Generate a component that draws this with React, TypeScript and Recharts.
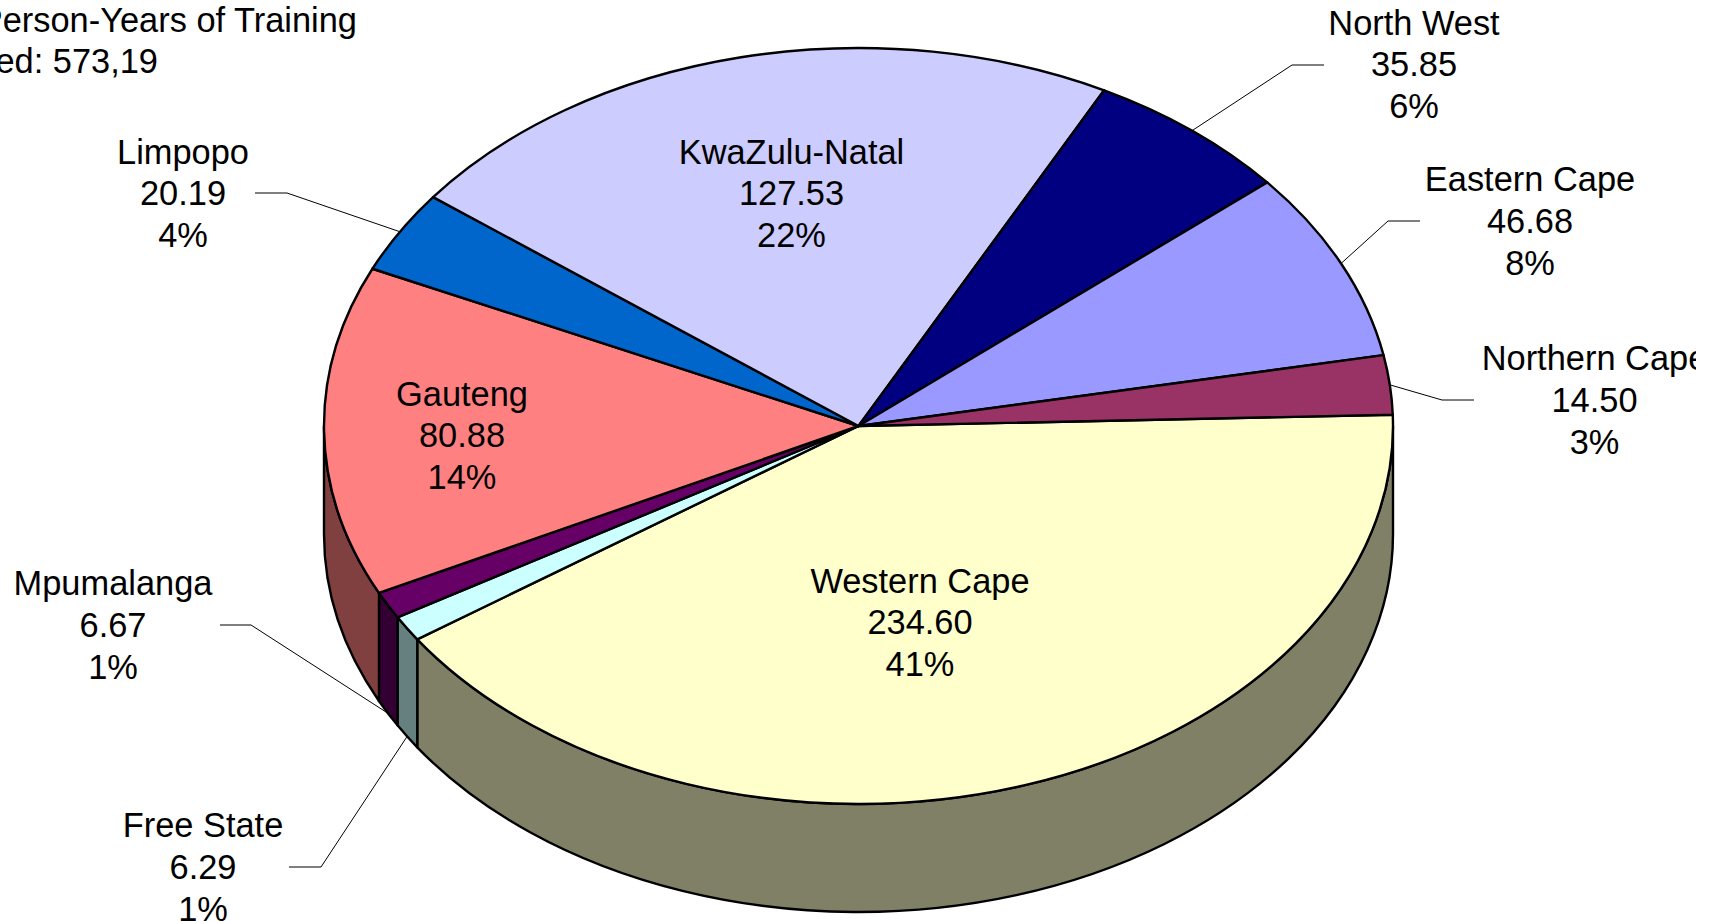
import React from "react";
import { PieChart, Pie } from "recharts";

const provinces = ["Western Cape", "Free State", "Mpumalanga", "Gauteng", "Limpopo", "KwaZulu-Natal", "North West", "Eastern Cape", "Northern Cape"];
const personYears = [234.6, 6.29, 6.67, 80.88, 20.19, 127.53, 35.85, 46.68, 14.5];
const topColors = ["#FFFFCC", "#CCFFFF", "#660066", "#FF8080", "#0066CC", "#CCCCFF", "#000080", "#9999FF", "#993366"];
const sideColors = ["#808066", "#668080", "#330033", "#804040", "#003366", "#666680", "#000040", "#4D4D80", "#4D1933"];
const titleLines = ["Person-Years of Training", "ed: 573,19"];

const table = provinces.map((name, i) => ({ name, value: personYears[i], fill: topColors[i], side: sideColors[i] }));

const WIDTH = 1696;
const HEIGHT = 921;
const CX = 858.5;
const CY = 426;
const RX = 534.5;
const RY = 378;
const DEPTH = 108;
const FONT = 34.4;
const LINE = 41.8;

// Label placement: text centre x, first baseline y, and optional leader elbow [textSideX, elbowX, y].
const labelLayout: Record<string, { x: number; y: number; leader?: [number, number, number] }> = {
  "Western Cape": { x: 920, y: 592.5 },
  "Free State": { x: 203, y: 837, leader: [289, 321, 867] },
  Mpumalanga: { x: 113, y: 595, leader: [220, 251, 625] },
  Gauteng: { x: 462, y: 405.5 },
  Limpopo: { x: 183, y: 163.5, leader: [255, 287, 193] },
  "KwaZulu-Natal": { x: 791.5, y: 163.5 },
  "North West": { x: 1414, y: 34.5, leader: [1324, 1292, 65] },
  "Eastern Cape": { x: 1530, y: 191, leader: [1420, 1388, 221] },
  "Northern Cape": { x: 1594.5, y: 370, leader: [1474, 1442, 400] },
};

const pt = (deg: number, dy = 0) => {
  const a = (deg * Math.PI) / 180;
  return { x: CX + RX * Math.cos(a), y: CY - RY * Math.sin(a) + dy };
};

const arc = (from: number, to: number, dy = 0, sweep = 1) => {
  const p = pt(to, dy);
  const large = Math.abs(from - to) > 180 ? 1 : 0;
  return `A ${RX} ${RY} 0 ${large} ${sweep} ${p.x} ${p.y}`;
};

function EllipseSlice(props: any) {
  const { startAngle, endAngle, fill, payload } = props;
  const side = payload?.side ?? props.side;
  const s = pt(startAngle);
  const top = `M ${CX} ${CY} L ${s.x} ${s.y} ${arc(startAngle, endAngle)} Z`;

  // The side wall only shows on the front half: angles in (-180, 0) modulo 360.
  const walls: string[] = [];
  for (const k of [0, -360]) {
    const a = Math.min(startAngle, 0 + k);
    const b = Math.max(endAngle, -180 + k);
    if (a > b) {
      const p = pt(a);
      const q = pt(b, DEPTH);
      walls.push(`M ${p.x} ${p.y} ${arc(a, b)} L ${q.x} ${q.y} ${arc(b, a, DEPTH, 0)} Z`);
    }
  }
  return (
    <g>
      {walls.map((d) => (
        <path key={d} d={d} fill={side} stroke="#000" strokeWidth={2.4} strokeLinejoin="round" />
      ))}
      <path d={top} fill={fill} stroke="#000" strokeWidth={2.4} strokeLinejoin="round" />
    </g>
  );
}

function SliceLabel(props: any) {
  const { name, value, percent, midAngle } = props;
  const place = labelLayout[name];
  if (!place) return null;
  const lines = [name, value.toFixed(2), `${Math.round(percent * 100)}%`];
  let leader = null;
  if (place.leader) {
    const [tx, ex, ly] = place.leader;
    const sinM = Math.sin((midAngle * Math.PI) / 180);
    const end = pt(midAngle, sinM < 0 ? DEPTH : 0);
    leader = <polyline points={`${tx},${ly} ${ex},${ly} ${end.x},${end.y}`} fill="none" stroke="#000" strokeWidth={1} />;
  }
  return (
    <g>
      {leader}
      {lines.map((t, i) => (
        <text key={i} x={place.x} y={place.y + i * LINE} textAnchor="middle" fontFamily="Liberation Sans" fontSize={FONT} fill="#000">
          {t}
        </text>
      ))}
    </g>
  );
}

export default function App() {
  return (
    <div style={{ position: "absolute", left: 0, top: 0, width: WIDTH, height: HEIGHT, overflow: "hidden", background: "#fff" }}>
      <PieChart width={WIDTH} height={HEIGHT} margin={{ top: 0, right: 0, bottom: 0, left: 0 }} style={{ overflow: "hidden" }}>
        <Pie
          data={table}
          dataKey="value"
          nameKey="name"
          cx={CX}
          cy={CY}
          innerRadius={0}
          outerRadius={RX}
          startAngle={1.7}
          endAngle={-358.3}
          stroke="#000"
          isAnimationActive={false}
          shape={EllipseSlice}
          label={SliceLabel}
          labelLine={false}
        />
        {titleLines.map((t, i) => (
          <text key={t} x={i === 0 ? 357 : 158} y={32 + i * 40.5} textAnchor="end" fontFamily="Liberation Sans" fontSize={FONT} fill="#000">
            {t}
          </text>
        ))}
      </PieChart>
    </div>
  );
}
